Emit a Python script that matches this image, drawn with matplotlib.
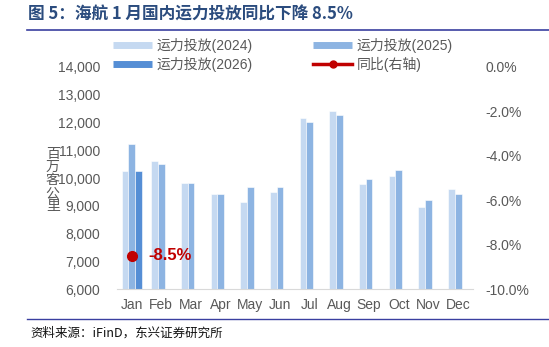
import matplotlib
matplotlib.use("Agg")
import matplotlib.pyplot as plt
from matplotlib.lines import Line2D
from matplotlib.ticker import FuncFormatter
import numpy as np

plt.rcParams['font.family'] = ['Liberation Sans', 'Noto Sans CJK SC', 'DejaVu Sans']

months = ['Jan', 'Feb', 'Mar', 'Apr', 'May', 'Jun', 'Jul', 'Aug', 'Sep', 'Oct', 'Nov', 'Dec']
cap_2024 = [10250, 10610, 9830, 9430, 9150, 9480, 12150, 12410, 9770, 10060, 8940, 9590]
cap_2025 = [11225, 10490, 9830, 9430, 9680, 9680, 12020, 12280, 9980, 10280, 9210, 9435]
cap_2026 = [10270]
yoy = [-0.085]
yoy_label = ['-8.5%']

c24, c25, c26 = '#C5D9F1', '#8DB4E2', '#558ED5'
red = '#C00000'
grey = '#595959'

fig = plt.figure(figsize=(5.49, 3.47), dpi=100)
ax = fig.add_axes([0.2126, 0.167, 0.649, 0.640])

x = np.arange(len(months))
w = 0.225
ax.bar(x - w, cap_2024, w, color=c24, edgecolor='white', linewidth=0.4)
ax.bar(x, cap_2025, w, color=c25, edgecolor='white', linewidth=0.4)
ax.bar(x[:len(cap_2026)] + w, cap_2026, w, color=c26, edgecolor='white', linewidth=0.4)

ax.set_ylim(6000, 14000)
ax.set_yticks(range(6000, 14001, 1000))
ax.yaxis.set_major_formatter(FuncFormatter(lambda v, p: f'{int(v):,}'))
ax.set_xlim(-0.5, len(months) - 0.5)
ax.set_xticks(x)
ax.set_xticklabels(months)
for s in ['top', 'right', 'left']:
    ax.spines[s].set_visible(False)
ax.spines['bottom'].set_color('#D9D9D9')
ax.tick_params(axis='y', length=0, pad=12, labelsize=10, labelcolor=grey)
ax.tick_params(axis='x', length=0, pad=6.5, labelsize=10, labelcolor=grey)

ax2 = ax.twinx()
ax2.plot(x[:len(yoy)], yoy, color=red, marker='o', markersize=7, linewidth=2.5)
for xi, v, t in zip(x, yoy, yoy_label):
    ax2.annotate(t, (xi, v), xytext=(12, 0), textcoords='offset points',
                 ha='left', va='center', color=red, fontsize=12, fontweight='bold')
ax2.set_ylim(-0.10, 0)
ax2.set_yticks(np.arange(-0.10, 0.001, 0.02))
ax2.yaxis.set_major_formatter(FuncFormatter(lambda v, p: f'{v*100:.1f}%'))
for s in ['top', 'right', 'left', 'bottom']:
    ax2.spines[s].set_visible(False)
ax2.tick_params(axis='y', length=0, pad=9, labelsize=10, labelcolor=grey)

# y axis title, characters stacked
fig.text(0.096, 0.481, '百\n万\n客\n公\n里', ha='center', va='center', fontsize=10,
         color=grey, family=['Noto Sans CJK SC'], linespacing=0.92)

handles = [
    Line2D([], [], color=c24, lw=5, solid_capstyle='butt'),
    Line2D([], [], color=c25, lw=5, solid_capstyle='butt'),
    Line2D([], [], color=c26, lw=5, solid_capstyle='butt'),
    Line2D([], [], color=red, lw=2.5, marker='o', markersize=5),
]
labels = ['运力投放(2024)', '运力投放(2025)', '运力投放(2026)', '同比(右轴)']
order = [0, 2, 1, 3]
leg = fig.legend([handles[i] for i in order], [labels[i] for i in order], ncol=2,
                 loc='center left', bbox_to_anchor=(0.183, 0.842), frameon=False,
                 fontsize=10, handlelength=2.8, handletextpad=0.3, columnspacing=4.4,
                 labelspacing=0.25)
for t in leg.get_texts():
    t.set_color(grey)

fig.text(0.051, 0.957, '图 5：海航 1 月国内运力投放同比下降 8.5%', ha='left', va='center',
         fontsize=12, fontweight='bold', color='#2B4C7E',
         family=['Noto Sans CJK SC', 'DejaVu Sans'])
fig.add_artist(Line2D([0.049, 1.0], [0.914, 0.914], color='#3A3FA0', lw=1.2))
fig.add_artist(Line2D([0.049, 1.0], [0.081, 0.081], color='#3A3FA0', lw=1.0))
fig.text(0.055, 0.040, '资料来源：iFinD，东兴证券研究所', ha='left', va='center',
         fontsize=9, style='italic', color='#111111',
         family=['Noto Sans CJK SC', 'DejaVu Sans'])

fig.savefig('out.png', dpi=100)
